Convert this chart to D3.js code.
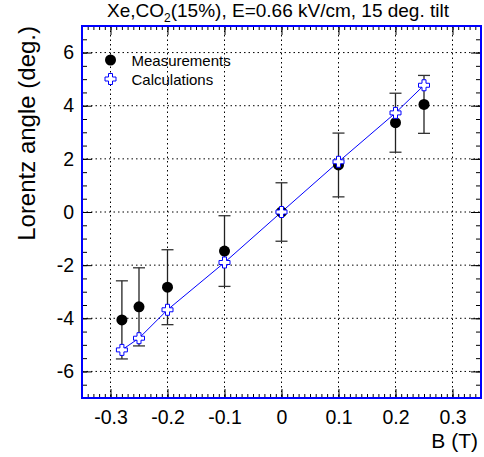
<!DOCTYPE html>
<html>
<head>
<meta charset="utf-8">
<script src="https://cdn.jsdelivr.net/npm/d3@7"></script>
<style>
  body { margin: 0; background: #fff; }
  text { font-family: "Liberation Sans", Arial, sans-serif; }
</style>
</head>
<body>
<div id="chart"></div>
<script>
// magnetic field values (T)
var bField = [-0.28, -0.25, -0.2, -0.1, 0, 0.1, 0.2, 0.25];
// measured Lorentz angle (deg.) and its error
var measured = [-4.06, -3.57, -2.83, -1.47, 0, 1.77, 3.36, 4.05];
var measErr = [1.47, 1.47, 1.41, 1.33, 1.1, 1.2, 1.11, 1.09];
// calculated Lorentz angle (deg.)
var calculated = [-5.19, -4.75, -3.68, -1.9, 0, 1.89, 3.73, 4.77];

var xTicks = [-0.3, -0.2, -0.1, 0, 0.1, 0.2, 0.3];
var yTicks = [-6, -4, -2, 0, 2, 4, 6];
var legendLabels = ["Measurements", "Calculations"];

var svg = d3.select("#chart").append("svg").attr("width", 484).attr("height", 457),
    margin = {top: 26, right: 3, bottom: 59, left: 82},
    width = 484 - margin.left - margin.right,
    height = 457 - margin.top - margin.bottom,
    x = d3.scaleLinear().domain([-0.35, 0.35]).range([0, width]),
    y = d3.scaleLinear().domain([-7, 7]).range([height, 0]),
    g = svg.append("g").attr("transform", `translate(${margin.left},${margin.top})`);

// plain hyphen instead of unicode minus
var fmtX = d => d === 0 ? "0" : d3.format(".1f")(d).replace("\u2212", "-");
var fmtY = d => String(d);

// dotted grid
g.selectAll(".gx").data(xTicks).enter().append("line")
    .attr("x1", d => x(d)).attr("x2", d => x(d))
    .attr("y1", 0).attr("y2", height)
    .attr("stroke", "#000").attr("stroke-width", 1).attr("stroke-dasharray", "1.5,3");
g.selectAll(".gy").data(yTicks).enter().append("line")
    .attr("x1", 0).attr("x2", width)
    .attr("y1", d => y(d)).attr("y2", d => y(d))
    .attr("stroke", "#000").attr("stroke-width", 1).attr("stroke-dasharray", "1.5,3");

// ticks on all four sides
var xMinor = d3.range(-34, 35).map(i => i / 100);
var yMinor = d3.range(-14, 15).map(i => i / 2);

g.append("g").attr("transform", `translate(0,${height})`)
    .call(d3.axisBottom(x).tickValues(xMinor).tickSize(-4).tickFormat(""));
g.append("g").attr("transform", `translate(0,${height})`)
    .call(d3.axisBottom(x).tickValues(xTicks).tickSize(-9).tickPadding(12).tickFormat(fmtX));
g.append("g")
    .call(d3.axisTop(x).tickValues(xMinor).tickSize(-4).tickFormat(""));
g.append("g")
    .call(d3.axisTop(x).tickValues(xTicks).tickSize(-9).tickFormat(""));

g.append("g")
    .call(d3.axisLeft(y).tickValues(yMinor).tickSize(-5).tickFormat(""));
g.append("g")
    .call(d3.axisLeft(y).tickValues(yTicks).tickSize(-10).tickPadding(8).tickFormat(fmtY));
g.append("g").attr("transform", `translate(${width},0)`)
    .call(d3.axisRight(y).tickValues(yMinor).tickSize(-5).tickFormat(""));
g.append("g").attr("transform", `translate(${width},0)`)
    .call(d3.axisRight(y).tickValues(yTicks).tickSize(-10).tickFormat(""));

g.selectAll(".domain").remove();
g.selectAll(".tick line").attr("stroke", "#000");
g.selectAll(".tick text").style("font-size", "19.5px").attr("fill", "#000");

// blue frame
g.append("rect").attr("x", 0).attr("y", 0).attr("width", width).attr("height", height)
    .attr("fill", "none").attr("stroke", "#0000ff").attr("stroke-width", 2);

// calculation line
var pts = bField.map((b, i) => [b, calculated[i]]);
g.append("path").datum(pts)
    .attr("fill", "none").attr("stroke", "#0000ff").attr("stroke-width", 1)
    .attr("d", d3.line().x(d => x(d[0])).y(d => y(d[1])));

// error bars
bField.forEach(function(b, i) {
  var cx = x(b), top = y(measured[i] + measErr[i]), bot = y(measured[i] - measErr[i]);
  g.append("line").attr("x1", cx).attr("x2", cx).attr("y1", top).attr("y2", bot)
      .attr("stroke", "#222").attr("stroke-width", 1.3);
  [top, bot].forEach(function(yy) {
    g.append("line").attr("x1", cx - 6).attr("x2", cx + 6).attr("y1", yy).attr("y2", yy)
        .attr("stroke", "#333").attr("stroke-width", 1.3);
  });
});

// open cross marker
function crossPath(s, a) {
  return `M${-a},${-s}H${a}V${-a}H${s}V${a}H${a}V${s}H${-a}V${a}H${-s}V${-a}H${-a}Z`;
}

g.selectAll(".meas").data(bField).enter().append("circle")
    .attr("cx", d => x(d)).attr("cy", (d, i) => y(measured[i])).attr("r", 5.5)
    .attr("fill", "#000");

g.selectAll(".calc").data(bField).enter().append("path")
    .attr("transform", (d, i) => `translate(${x(d)},${y(calculated[i])})`)
    .attr("d", crossPath(5.5, 2))
    .attr("fill", "#fff").attr("stroke", "#0000ff").attr("stroke-width", 1);

// legend
var leg = g.append("g").attr("transform", `translate(${x(-0.3)},0)`);
leg.append("circle").attr("cx", 0).attr("cy", 34).attr("r", 5.5).attr("fill", "#000");
leg.append("path").attr("transform", "translate(0,53)").attr("d", crossPath(5.5, 2))
    .attr("fill", "#fff").attr("stroke", "#0000ff").attr("stroke-width", 1);
legendLabels.forEach(function(t, i) {
  leg.append("text").attr("x", 21).attr("y", 35 + i * 19).attr("dy", "0.35em")
      .style("font-size", "15px").text(t);
});

// title
var title = svg.append("text").attr("x", 278).attr("y", 17).attr("text-anchor", "middle")
    .style("font-size", "19px");
title.append("tspan").text("Xe,CO");
title.append("tspan").attr("dy", 5).style("font-size", "12px").text("2");
title.append("tspan").attr("dy", -5).text("(15%), E=0.66 kV/cm, 15 deg. tilt");

// axis titles
svg.append("text").attr("x", 478).attr("y", 448).attr("text-anchor", "end")
    .style("font-size", "21px").text("B (T)");
svg.append("text").attr("transform", "translate(35,26) rotate(-90)")
    .attr("text-anchor", "end").style("font-size", "24px").text("Lorentz angle (deg.)");
</script>
</body>
</html>
